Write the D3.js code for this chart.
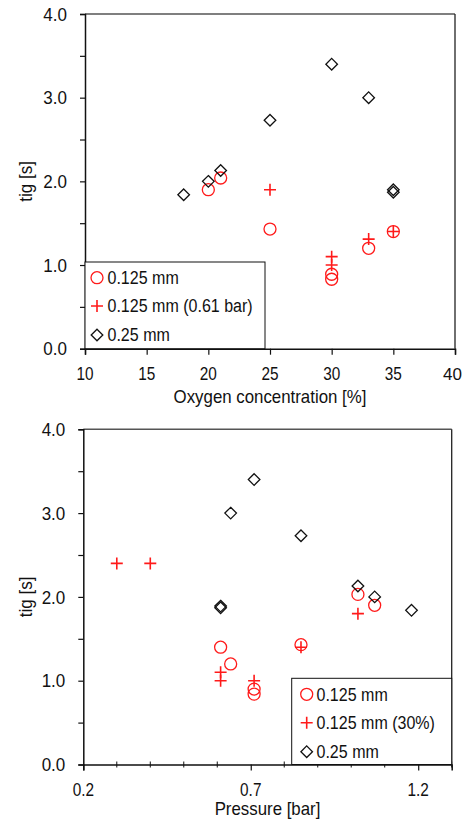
<!DOCTYPE html>
<html>
<head>
<meta charset="utf-8">
<script src="https://cdn.jsdelivr.net/npm/d3@7"></script>
<style>
  body { margin: 0; background: #fff; }
  text { font-family: "Liberation Sans", Arial, sans-serif; fill: #111; }
</style>
</head>
<body>
<div id="chart"></div>
<script>
// top panel: oxygen concentration
const o125X = [20, 21, 25, 30, 30, 33, 35];
const o125Y = [1.90, 2.04, 1.43, 0.89, 0.83, 1.20, 1.40];
const o061X = [25, 30, 30, 33, 35];
const o061Y = [1.90, 1.10, 1.00, 1.31, 1.40];
const o25X = [18, 20, 21, 25, 30, 33, 35, 35];
const o25Y = [1.84, 2.00, 2.13, 2.73, 3.40, 3.00, 1.90, 1.87];
const oxyTicks = [10, 15, 20, 25, 30, 35, 40];
const topLegend = ["0.125 mm", "0.125 mm (0.61 bar)", "0.25 mm"];

// bottom panel: pressure
const p125X = [0.61, 0.64, 0.71, 0.71, 0.85, 1.02, 1.07];
const p125Y = [1.40, 1.20, 0.90, 0.84, 1.43, 2.03, 1.90];
const p30X = [0.30, 0.40, 0.61, 0.61, 0.71, 0.85, 1.02];
const p30Y = [2.40, 2.40, 1.10, 1.00, 1.00, 1.40, 1.80];
const p25X = [0.61, 0.61, 0.64, 0.71, 0.85, 1.02, 1.07, 1.18];
const p25Y = [1.89, 1.87, 3.00, 3.40, 2.73, 2.13, 2.00, 1.84];
const presTicks = [0.2, 0.7, 1.2];
const presMinor = [0.3, 0.4, 0.5, 0.6, 0.8, 0.9, 1.0, 1.1, 1.3];
const bottomLegend = ["0.125 mm", "0.125 mm (30%)", "0.25 mm"];

const yTicks = [0, 1, 2, 3, 4];
const yMinor = [0.5, 1.5, 2.5, 3.5];

const svgWidth = 464;
const svgHeight = 827;

const svg = d3.select("#chart")
    .append("svg")
    .attr("width", svgWidth)
    .attr("height", svgHeight);

const zip = (xs, ys) => xs.map((x, i) => ({x: x, y: ys[i]}));

// the original font is tall and a bit narrow
function squash(sel, f) {
    sel.each(function() {
        const w = this.getComputedTextLength();
        d3.select(this)
            .attr("textLength", w * f)
            .attr("lengthAdjust", "spacingAndGlyphs");
    });
}

const circlePath = "M6,0A6,6 0 1,1 -6,0A6,6 0 1,1 6,0Z";
const crossPath = "M-6,0H6M0,-6V6";
const diamondPath = "M0,-5.8L5.8,0L0,5.8L-5.8,0Z";

const styles = [
    {path: circlePath, stroke: "#ff1a1a", width: 1.3},
    {path: crossPath, stroke: "#ff1a1a", width: 1.6},
    {path: diamondPath, stroke: "#111", width: 1.3}
];

function drawPanel(cfg) {
    const g = svg.append("g");
    const x = d3.scaleLinear().domain(cfg.xDomain).range([cfg.left, cfg.right]);
    const y = d3.scaleLinear().domain([0, 4]).range([cfg.bottom, cfg.top]);

    // frame top and right
    g.append("line")
        .attr("x1", cfg.left).attr("x2", cfg.right)
        .attr("y1", cfg.top).attr("y2", cfg.top)
        .attr("stroke", "#555").attr("stroke-width", 1.5);
    g.append("line")
        .attr("x1", cfg.right).attr("x2", cfg.right)
        .attr("y1", cfg.top).attr("y2", cfg.bottom)
        .attr("stroke", "#222").attr("stroke-width", 1.3);

    // y axis
    const yAxis = g.append("g")
        .attr("transform", `translate(${cfg.left},0)`)
        .call(d3.axisLeft(y).tickValues(yTicks.concat(yMinor)).tickSize(5).tickFormat(""));
    yAxis.select(".domain").attr("stroke", "#111").attr("stroke-width", 1.5);
    yAxis.selectAll(".tick line").attr("stroke", "#111").attr("stroke-width", 1.2);

    g.selectAll(".ylab")
        .data(yTicks)
        .enter()
        .append("text")
        .attr("x", cfg.left - 18)
        .attr("y", d => y(d))
        .attr("dy", "0.36em")
        .attr("text-anchor", "end")
        .attr("font-size", "18.5px")
        .text(d => d3.format(".1f")(d))
        .call(squash, 0.92);

    // x axis
    const xAxis = g.append("g")
        .attr("transform", `translate(0,${cfg.bottom})`)
        .call(d3.axisBottom(x).tickValues(cfg.xTicks).tickSize(6).tickFormat(""));
    xAxis.select(".domain").attr("stroke", "#111").attr("stroke-width", 1.5);
    xAxis.selectAll(".tick line").attr("stroke", "#111").attr("stroke-width", 1.2);

    if (cfg.xMinor) {
        g.selectAll(".xminor")
            .data(cfg.xMinor)
            .enter()
            .append("line")
            .attr("x1", d => x(d)).attr("x2", d => x(d))
            .attr("y1", cfg.bottom - 3).attr("y2", cfg.bottom + 3)
            .attr("stroke", "#111").attr("stroke-width", 1);
    }

    g.selectAll(".xlab")
        .data(cfg.xTicks)
        .enter()
        .append("text")
        .attr("x", d => x(d))
        .attr("y", cfg.bottom + 31)
        .attr("text-anchor", "middle")
        .attr("font-size", "18.5px")
        .text(cfg.xFormat)
        .call(squash, 0.83)
        .each(function() {
            // keep the last label inside the page
            const b = this.getBBox();
            if (b.x + b.width > svgWidth - 3) {
                d3.select(this)
                    .attr("text-anchor", "end")
                    .attr("x", svgWidth - 2)
                    .attr("font-size", "17px")
                    .attr("textLength", null)
                    .attr("lengthAdjust", null);
            }
        });

    g.append("text")
        .attr("x", (cfg.left + cfg.right) / 2)
        .attr("y", cfg.bottom + cfg.xTitleOffset)
        .attr("text-anchor", "middle")
        .attr("font-size", "18.5px")
        .text(cfg.xTitle)
        .call(squash, 0.91);

    g.append("text")
        .attr("transform", `translate(25,${(cfg.top + cfg.bottom) / 2}) rotate(-90)`)
        .attr("dy", "0.36em")
        .attr("text-anchor", "middle")
        .attr("font-size", "18.5px")
        .text("tig [s]")
        .call(squash, 0.92);

    // legend box, drawn under the markers
    const lg = cfg.legend;
    g.append("rect")
        .attr("x", lg.x0).attr("y", lg.y0)
        .attr("width", lg.x1 - lg.x0).attr("height", lg.y1 - lg.y0)
        .attr("fill", "#fff")
        .attr("stroke", "#111").attr("stroke-width", 1);

    cfg.series.forEach(function(s, i) {
        const st = styles[i];
        g.selectAll(".pt" + i)
            .data(zip(s.xs, s.ys))
            .enter()
            .append("path")
            .attr("d", st.path)
            .attr("transform", d => `translate(${x(d.x)},${y(d.y)})`)
            .attr("fill", "none")
            .attr("stroke", st.stroke)
            .attr("stroke-width", st.width);
    });

    lg.labels.forEach(function(label, i) {
        const st = styles[i];
        const cy = lg.rows[i];
        g.append("path")
            .attr("d", st.path)
            .attr("transform", `translate(${lg.mx},${cy})`)
            .attr("fill", "none")
            .attr("stroke", st.stroke)
            .attr("stroke-width", st.width);
        g.append("text")
            .attr("x", lg.tx)
            .attr("y", cy)
            .attr("dy", "0.36em")
            .attr("font-size", "18px")
            .text(label)
            .call(squash, 0.89);
    });
}

drawPanel({
    left: 85, right: 455, top: 14, bottom: 348.7,
    xDomain: [10, 40],
    xTicks: oxyTicks,
    xFormat: d => d,
    xTitle: "Oxygen concentration [%]",
    xTitleOffset: 54,
    series: [{xs: o125X, ys: o125Y}, {xs: o061X, ys: o061Y}, {xs: o25X, ys: o25Y}],
    legend: {x0: 85, x1: 265, y0: 262, y1: 348.7, mx: 97, tx: 107.5,
             rows: [277.7, 306, 335], labels: topLegend}
});

drawPanel({
    left: 83.3, right: 451.7, top: 429.3, bottom: 764.5,
    xDomain: [0.2, 1.3],
    xTicks: presTicks,
    xMinor: presMinor,
    xFormat: d => d3.format(".1f")(d),
    xTitle: "Pressure [bar]",
    xTitleOffset: 50,
    series: [{xs: p125X, ys: p125Y}, {xs: p30X, ys: p30Y}, {xs: p25X, ys: p25Y}],
    legend: {x0: 291.7, x1: 451.7, y0: 678.3, y1: 764.5, mx: 306.7, tx: 316.5,
             rows: [694.3, 722.7, 751.7], labels: bottomLegend}
});
</script>
</body>
</html>
